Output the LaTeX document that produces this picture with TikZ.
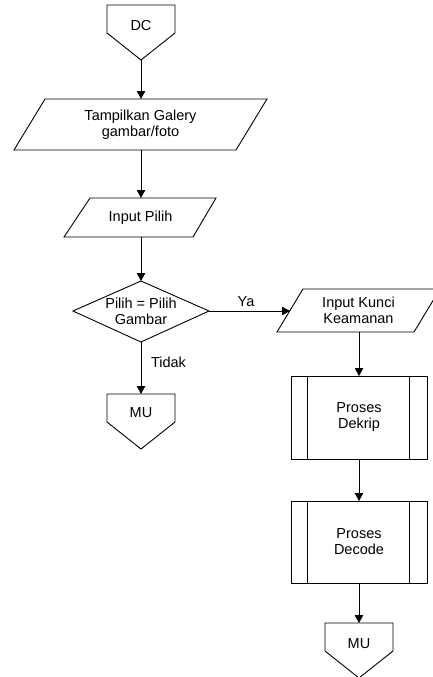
\documentclass[tikz,border=0pt]{standalone}
\usepackage{fontspec}
\setmainfont{Liberation Sans}
\usetikzlibrary{arrows.meta}
\begin{document}
\begin{tikzpicture}[x=1pt,y=-1pt,
  shp/.style={draw=black,line width=0.9pt,line join=miter},
  arr/.style={draw=black,line width=0.9pt,-{Triangle[length=8pt,width=8.5pt]}},
  txt/.style={font=\fontsize{14.5}{16}\selectfont,align=center,inner sep=0pt},
  lbl/.style={font=\fontsize{14.5}{16}\selectfont,inner sep=0pt}]
\useasboundingbox (0,0) rectangle (433,677);
% shapes
\draw[shp] (107,5) -- (175,5) -- (175,33) -- (141,60) -- (107,33) -- cycle;
\draw[shp] (45,99) -- (267,99) -- (236,150) -- (14,150) -- cycle;
\draw[shp] (90,198) -- (216,198) -- (193,237) -- (64,237) -- cycle;
\draw[shp] (141,281) -- (209,311) -- (141,342) -- (73,311) -- cycle;
\draw[shp] (107,394) -- (175,394) -- (175,422) -- (141,449) -- (107,422) -- cycle;
\draw[shp] (303,289) -- (440,289) -- (414,332) -- (277,332) -- cycle;
\draw[shp] (291,376) rectangle (427,459);
\draw[shp] (307,376) -- (307,459) (409,376) -- (409,459);
\draw[shp] (291,501) rectangle (427,583);
\draw[shp] (307,501) -- (307,583) (409,501) -- (409,583);
\draw[shp] (325,623) -- (393,623) -- (393,651) -- (359,678) -- (325,651) -- cycle;
% texts
\node[txt] (dc) at (141,26) {DC};
\node[txt] (tg) at (140.5,125) {Tampilkan Galery\\gambar/foto};
\node[txt] (ip) at (140.5,218) {Input Pilih};
\node[txt] (dec) at (141,311) {Pilih = Pilih\\Gambar};
\node[txt] (mu1) at (141,413) {MU};
\node[txt] (ik) at (358.5,310.5) {Input Kunci\\Keamanan};
\node[txt] (dk) at (359,417.5) {Proses\\Dekrip};
\node[txt] (dcd) at (359,541.5) {Proses\\Decode};
\node[txt] (mu2) at (359,644) {MU};
% connection points
\coordinate (dc-s) at (141,60);
\coordinate (tg-n) at (141,99);
\coordinate (tg-s) at (141,150);
\coordinate (ip-n) at (141,198);
\coordinate (ip-s) at (141,237);
\coordinate (dec-n) at (141,281);
\coordinate (dec-e) at (209,311);
\coordinate (dec-s) at (141,342);
\coordinate (mu1-n) at (141,394);
\coordinate (ik-w) at (290,311);
\coordinate (ik-s) at (359,332);
\coordinate (dk-n) at (359,376);
\coordinate (dk-s) at (359,459);
\coordinate (dcd-n) at (359,501);
\coordinate (dcd-s) at (359,583);
\coordinate (mu2-n) at (359,623);
% connectors
\draw[arr] (dc-s) -- (tg-n);
\draw[arr] (tg-s) -- (ip-n);
\draw[arr] (ip-s) -- (dec-n);
\draw[arr] (dec-e) -- (ik-w);
\draw[arr] (dec-s) -- (mu1-n);
\draw[arr] (ik-s) -- (dk-n);
\draw[arr] (dk-s) -- (dcd-n);
\draw[arr] (dcd-s) -- (mu2-n);
% labels
\node[lbl] (ya) at (246,302) {Ya};
\node[lbl] (tidak) at (168.5,362) {Tidak};
\end{tikzpicture}
\end{document}
